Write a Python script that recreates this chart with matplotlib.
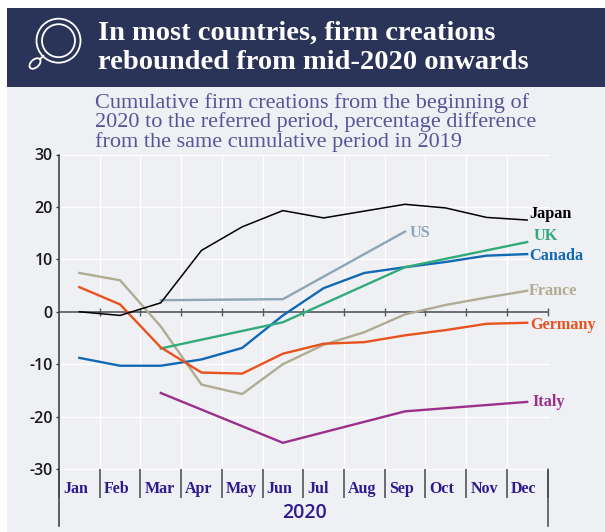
import numpy as np
import matplotlib
matplotlib.use('Agg')
import matplotlib.pyplot as plt
from matplotlib.patches import Circle, Ellipse, Rectangle

plt.rcParams['axes.unicode_minus'] = False

months = ['Jan', 'Feb', 'Mar', 'Apr', 'May', 'Jun', 'Jul', 'Aug', 'Sep', 'Oct', 'Nov', 'Dec']

# monthly series
japan = [0, -0.7, 1.7, 11.7, 16.2, 19.3, 17.9, 19.2, 20.5, 19.8, 18.0, 17.5]
canada = [-8.8, -10.3, -10.3, -9.1, -6.9, -0.7, 4.5, 7.4, 8.5, 9.5, 10.7, 11.0]
france = [7.4, 6.0, -2.8, -13.9, -15.7, -10.0, -6.3, -3.9, -0.5, 1.3, 2.7, 4.0]
germany = [4.7, 1.4, -6.8, -11.6, -11.8, -8.0, -6.1, -5.8, -4.5, -3.5, -2.3, -2.1]

# quarterly series
quarter_months = ['Mar', 'Jun', 'Sep', 'Dec']
uk = [-7.0, -2.0, 8.5, 13.3]
italy = [-15.5, -25.0, -19.0, -17.2]
us_months = ['Mar', 'Jun', 'Sep']
us = [2.2, 2.4, 15.3]

yticks = [-30, -20, -10, 0, 10, 20, 30]

BG = '#eff0f3'
NAVY = '#2a3358'
LABEL = '#2e1a8e'
SERIF = ['Liberation Serif', 'DejaVu Serif']

W, H = 605, 532
fig = plt.figure(figsize=(W / 100, H / 100), dpi=100, facecolor='white')

# page background, header band and icon, in pixel coordinates
page = fig.add_axes([0, 0, 1, 1])
page.set_xlim(0, W)
page.set_ylim(H, 0)
page.axis('off')
page.add_patch(Rectangle((7, 8), W - 7, H - 8, color=BG, lw=0))
page.add_patch(Rectangle((7, 8), W - 7, 79, color=NAVY, lw=0))
page.add_patch(Circle((58.5, 40.7), 22, fill=False, ec='white', lw=1.3))
page.add_patch(Circle((58.5, 40.7), 16.5, fill=False, ec='white', lw=1.3))
page.add_patch(Ellipse((35, 63.5), 13, 8, angle=-42, fill=False, ec='white', lw=1.3))
page.plot([40, 43.5], [59, 56], color='white', lw=1.3)

page.text(98, 40, 'In most countries, firm creations', color='white', fontsize=20.5,
          fontweight='bold', family=SERIF, va='baseline')
page.text(98, 69, 'rebounded from mid-2020 onwards', color='white', fontsize=20.5,
          fontweight='bold', family=SERIF, va='baseline')

subtitle = ['Cumulative firm creations from the beginning of',
            '2020 to the referred period, percentage difference',
            'from the same cumulative period in 2019']
for i, line in enumerate(subtitle):
    page.text(95, 108 + i * 19.3, line, color='#55559a', fontsize=16, family=SERIF, va='baseline')

ax = fig.add_axes([59 / W, (H - 469) / H, 488.5 / W, 314.5 / H])
ax.set_facecolor('none')
ax.set_xlim(0, 12)
ax.set_ylim(-30, 30)
x = np.arange(12) + 0.5


def month_pos(names):
    return [months.index(n) + 0.5 for n in names]


for m in range(1, 13):
    ax.axvline(m, color='white', lw=1, zorder=1)
for v in yticks:
    if v != 0:
        ax.axhline(v, color='white', lw=1, zorder=1, clip_on=False)

ax.axhline(0, color='#55585c', lw=1.2, zorder=2)
ax.plot(np.arange(1, 13), np.zeros(12), ls='none', marker='|', ms=6, mew=1,
        color='#55585c', zorder=2, clip_on=False)

ax.plot(x, france, color='#b0ab92', lw=1.7, zorder=3)
ax.plot(x, canada, color='#1169b5', lw=1.7, zorder=3)
ax.plot(month_pos(quarter_months), uk, color='#32ab7a', lw=1.7, zorder=4)
ax.plot(x, germany, color='#e8521e', lw=1.7, zorder=4)
ax.plot(month_pos(us_months), us, color='#8ea5b5', lw=1.7, zorder=3)
ax.plot(month_pos(quarter_months), italy, color='#9a2f8c', lw=1.7, zorder=3)
ax.plot(x, japan, color='black', lw=1.1, zorder=5)

# direct labels
labels = [('Japan', 11.55, 18.6, 'black'), ('UK', 11.65, 14.4, '#32ab7a'),
          ('Canada', 11.55, 10.7, '#1169b5'), ('France', 11.55, 4.0, '#b0ab92'),
          ('Germany', 11.58, -2.5, '#e8521e'), ('Italy', 11.62, -17.2, '#9a2f8c'),
          ('US', 8.6, 15.1, '#8ea5b5')]
for name, lx, ly, col in labels:
    ax.text(lx, ly, name, color=col, fontsize=11.7, family=SERIF, fontweight='bold',
            va='center', ha='left', clip_on=False, zorder=6)

for s in ['top', 'right', 'bottom']:
    ax.spines[s].set_visible(False)
ax.spines['left'].set_color('#33363a')
ax.spines['left'].set_linewidth(1.1)
ax.spines['left'].set_bounds(-30, 30)

ax.set_yticks(yticks)
ax.tick_params(axis='y', length=2.5, width=0.9, color='#33363a', pad=2)
for t in ax.get_yticklabels():
    t.set_fontsize(11.5)
    t.set_family('Open Sans')
    t.set_fontweight('semibold')
    t.set_color('#1a1a1a')

# month separators below the plot
ax.set_xticks(np.arange(0, 13))
ax.set_xticklabels([])
ax.tick_params(axis='x', length=21, width=1.1, color='#44474b', pad=0)
for m, name in zip(np.arange(12), months):
    ax.annotate(name, (m, 0), xycoords=ax.get_xaxis_transform(), xytext=(3, -14.5),
                textcoords='offset points', ha='left', va='center', color=LABEL,
                fontsize=11.5, family=SERIF, fontweight='bold', annotation_clip=False)

page.plot([59, 59], [469, 526], color='#33363a', lw=1.1)
page.plot([547.5, 547.5], [469, 526], color='#44474b', lw=1.1)
page.text(304.5, 513, '2020', color=LABEL, fontsize=14, family='Open Sans',
          fontweight='semibold', ha='center', va='center')

fig.savefig('out.png', dpi=100, facecolor=fig.get_facecolor())
